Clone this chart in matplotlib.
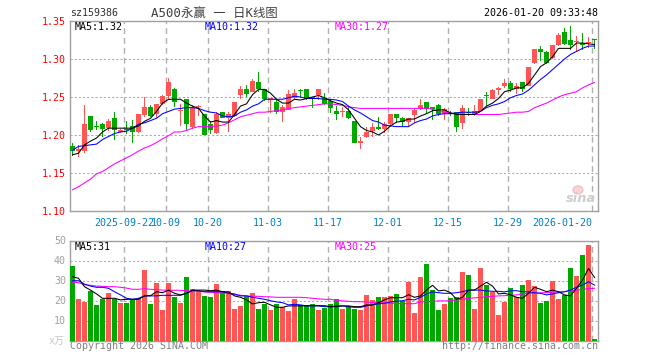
import numpy as np
import matplotlib
matplotlib.use("Agg")
import matplotlib.pyplot as plt
from matplotlib.patches import Ellipse

opens = [1.185,1.179,1.179,1.225,1.211,1.214,1.209,1.222,1.204,1.207,1.212,1.204,1.226,1.237,1.227,1.241,1.251,1.261,1.231,1.248,1.210,1.237,1.227,1.214,1.202,1.230,1.223,1.225,1.253,1.260,1.257,1.270,1.261,1.247,1.244,1.230,1.233,1.249,1.259,1.260,1.249,1.252,1.249,1.245,1.232,1.230,1.232,1.218,1.190,1.197,1.205,1.211,1.208,1.214,1.228,1.222,1.217,1.226,1.234,1.244,1.237,1.239,1.227,1.229,1.230,1.216,1.230,1.227,1.232,1.252,1.248,1.259,1.264,1.268,1.261,1.270,1.265,1.295,1.313,1.309,1.301,1.318,1.335,1.325,1.322,1.321,1.321,1.326]
closes = [1.179,1.181,1.214,1.206,1.210,1.208,1.218,1.206,1.207,1.206,1.204,1.227,1.237,1.225,1.241,1.251,1.270,1.243,1.233,1.215,1.235,1.238,1.200,1.207,1.227,1.223,1.228,1.243,1.261,1.254,1.271,1.261,1.247,1.248,1.230,1.237,1.254,1.255,1.258,1.248,1.248,1.261,1.241,1.236,1.227,1.231,1.222,1.190,1.191,1.204,1.211,1.208,1.214,1.228,1.222,1.217,1.222,1.233,1.240,1.234,1.234,1.227,1.234,1.228,1.211,1.235,1.229,1.232,1.247,1.251,1.259,1.262,1.268,1.261,1.265,1.261,1.289,1.313,1.309,1.295,1.318,1.331,1.320,1.318,1.323,1.318,1.322,1.325]
highs = [1.189,1.187,1.239,1.225,1.218,1.216,1.221,1.230,1.208,1.219,1.220,1.227,1.250,1.239,1.241,1.252,1.275,1.262,1.241,1.248,1.240,1.240,1.227,1.218,1.230,1.230,1.230,1.244,1.264,1.266,1.274,1.283,1.261,1.248,1.247,1.240,1.259,1.261,1.261,1.260,1.249,1.261,1.255,1.247,1.238,1.237,1.238,1.218,1.198,1.211,1.216,1.224,1.217,1.228,1.228,1.224,1.222,1.236,1.247,1.244,1.237,1.241,1.236,1.231,1.230,1.239,1.235,1.239,1.248,1.257,1.261,1.263,1.274,1.271,1.268,1.270,1.289,1.313,1.317,1.310,1.318,1.334,1.341,1.344,1.330,1.334,1.329,1.326]
lows = [1.173,1.171,1.176,1.204,1.206,1.198,1.205,1.193,1.203,1.201,1.190,1.203,1.224,1.224,1.222,1.240,1.248,1.237,1.212,1.207,1.208,1.225,1.200,1.201,1.201,1.222,1.204,1.224,1.247,1.250,1.256,1.257,1.245,1.229,1.227,1.217,1.233,1.247,1.249,1.246,1.235,1.246,1.239,1.229,1.220,1.224,1.221,1.189,1.182,1.196,1.197,1.207,1.203,1.213,1.216,1.211,1.210,1.216,1.233,1.227,1.220,1.225,1.220,1.225,1.204,1.208,1.225,1.225,1.231,1.238,1.247,1.252,1.262,1.256,1.254,1.257,1.264,1.293,1.297,1.294,1.300,1.317,1.318,1.312,1.311,1.312,1.315,1.313]

ma5 = [1.174,1.176,1.187,1.192,1.196,1.204,1.209,1.209,1.209,1.209,1.209,1.212,1.218,1.222,1.231,1.242,1.247,1.247,1.247,1.242,1.238,1.235,1.225,1.217,1.219,1.217,1.217,1.227,1.238,1.241,1.253,1.260,1.260,1.255,1.247,1.242,1.242,1.247,1.246,1.248,1.250,1.252,1.249,1.245,1.242,1.240,1.233,1.222,1.211,1.206,1.204,1.200,1.205,1.212,1.217,1.218,1.221,1.221,1.225,1.228,1.232,1.233,1.233,1.229,1.227,1.227,1.227,1.227,1.231,1.238,1.242,1.248,1.257,1.259,1.262,1.262,1.268,1.279,1.290,1.295,1.303,1.314,1.314,1.314,1.321,1.321,1.320,1.319]
ma10 = [1.180,1.185,1.186,1.187,1.188,1.194,1.198,1.202,1.204,1.205,1.209,1.214,1.216,1.219,1.222,1.228,1.231,1.234,1.235,1.236,1.236,1.235,1.232,1.230,1.229,1.225,1.224,1.225,1.230,1.233,1.238,1.241,1.247,1.247,1.247,1.247,1.249,1.251,1.250,1.248,1.248,1.248,1.247,1.247,1.246,1.244,1.238,1.233,1.229,1.224,1.219,1.217,1.213,1.212,1.211,1.211,1.211,1.216,1.219,1.221,1.225,1.227,1.228,1.228,1.229,1.230,1.230,1.230,1.231,1.236,1.239,1.241,1.244,1.249,1.252,1.254,1.259,1.266,1.273,1.279,1.286,1.293,1.300,1.306,1.310,1.314,1.317,1.317]
ma30 = [1.128,1.132,1.137,1.142,1.149,1.152,1.157,1.162,1.166,1.170,1.174,1.179,1.183,1.186,1.190,1.195,1.199,1.204,1.204,1.206,1.209,1.211,1.211,1.211,1.212,1.213,1.216,1.220,1.224,1.226,1.228,1.230,1.230,1.231,1.232,1.233,1.235,1.236,1.237,1.238,1.239,1.240,1.241,1.241,1.240,1.239,1.237,1.236,1.235,1.235,1.235,1.235,1.235,1.235,1.235,1.235,1.235,1.235,1.235,1.235,1.234,1.231,1.230,1.229,1.228,1.227,1.227,1.227,1.227,1.227,1.227,1.227,1.228,1.229,1.230,1.230,1.231,1.236,1.239,1.242,1.246,1.250,1.253,1.255,1.257,1.262,1.266,1.269]

volumes = [37.3,20.8,19.3,24.8,17.8,20.6,23.8,20.6,18.8,18.8,20.3,20.8,35.3,18.3,28.8,15.3,28.8,21.8,18.8,31.8,25.8,24.8,22.3,21.8,28.3,24.8,24.8,15.8,17.3,22.3,23.8,15.8,18.3,15.3,18.3,16.6,14.8,20.8,17.9,17.3,18.3,15.3,16.3,18.3,20.6,15.8,17.3,15.8,15.3,22.8,20.3,21.8,21.8,22.3,23.3,19.8,29.3,13.8,31.8,38.3,25.3,15.3,18.3,21.3,21.8,34.3,32.8,15.8,36.3,27.8,24.3,12.8,19.3,26.3,21.8,27.8,30.3,27.3,18.8,19.8,29.8,20.8,22.8,36.3,32.3,42.8,47.8,0.8]
vol_ma5 = [31.9,31.1,26.9,25.2,23.3,21.1,21.1,21.1,20.3,20.6,20.6,20.6,22.3,22.4,24.4,23.9,25.2,23.6,22.8,23.6,25.2,25.2,25.2,24.9,25.2,24.4,24.3,22.3,21.6,20.3,18.3,18.9,19.1,17.8,16.6,16.6,17.3,17.3,17.3,17.4,17.4,17.4,17.4,16.9,16.9,17.3,17.3,16.9,16.9,17.8,17.8,18.9,20.3,21.4,21.4,21.4,22.9,21.6,22.3,25.2,27.6,24.8,25.2,23.9,20.6,21.6,25.2,25.2,27.2,29.1,27.2,23.3,23.6,22.8,21.6,21.1,23.6,26.6,25.6,24.4,25.2,24.4,22.8,22.3,26.1,30.2,36.0,31.5]
vol_ma10 = [29.9,29.9,28.2,27.2,26.6,26.6,26.1,24.4,22.8,21.1,20.6,21.1,22.3,22.3,22.3,22.6,22.6,22.6,22.6,23.6,24.9,24.8,24.4,24.4,24.4,24.4,23.6,23.3,22.3,22.3,21.6,21.1,20.6,19.9,19.3,18.9,17.8,18.1,17.8,17.3,17.3,17.3,16.9,16.9,17.3,17.3,16.9,16.6,16.6,17.3,17.8,18.3,18.6,19.3,19.6,19.9,20.6,20.3,21.6,23.3,24.3,23.9,23.6,23.6,23.9,24.4,25.2,25.2,25.2,24.8,24.6,24.6,24.3,24.9,24.9,24.4,24.3,23.9,23.6,22.8,23.3,23.9,24.4,25.2,26.6,27.7,29.4,27.7]
vol_ma30 = [29.2,28.9,27.9,27.6,27.2,27.1,26.9,26.9,26.6,26.2,25.6,25.6,25.9,25.6,25.4,25.2,25.1,25.1,25.1,24.9,24.9,24.8,24.3,24.1,23.9,23.8,23.6,22.9,22.6,22.3,22.1,22.1,21.9,21.8,21.6,21.6,21.6,21.6,21.6,21.4,21.1,20.8,20.6,20.6,20.1,19.8,19.6,19.4,19.4,19.3,18.9,18.9,18.8,18.6,18.6,18.4,18.4,18.4,19.3,19.4,19.6,19.8,19.8,19.9,20.3,20.6,21.1,21.3,21.6,21.9,22.1,22.3,22.4,22.6,22.8,23.3,23.6,23.6,23.8,23.9,24.1,24.3,24.4,24.8,25.2,25.6,25.9,26.1]

date_idx = [9,16,23,33,43,53,63,73,87]
date_labels = ["2025-09-22","10-09","10-20","11-03","11-17","12-01","12-15","12-29","2026-01-20"]
price_ticks = [1.10,1.15,1.20,1.25,1.30,1.35]
vol_ticks = [10,20,30,40,50]

MONO = "DejaVu Sans Mono"
RED, GREEN = "#ff5555", "#00a800"
BORDER = "#a0a0a0"
plt.rcParams["lines.scale_dashes"] = False
plt.rcParams["font.family"] = [MONO, "Noto Sans CJK SC", "DejaVu Sans"]
PX = 0.72
W, H = 660, 360
FS = 10

fig = plt.figure(figsize=(6.6, 3.6), dpi=100)
def rect(l, t, r, b):
    return [l/W, 1-b/H, (r-l)/W, (b-t)/H]
ax = fig.add_axes(rect(70, 21, 598, 211))
av = fig.add_axes(rect(70, 240.5, 598, 340.5))

x = np.arange(len(opens))
is_up = np.array(closes) > np.array(opens)
cols = [RED if u else GREEN for u in is_up]
xlim = (-0.42, 87.58)

for a in (ax, av):
    a.set_xlim(*xlim)
    for s in a.spines.values():
        s.set_color(BORDER); s.set_linewidth(1.4*PX)
    a.set_xticks(np.array(date_idx) - 0.42)
    a.tick_params(length=0)
    a.grid(True, axis="y", color="#a8a8a8", lw=PX, linestyle=(0, (1.5, 1.5)))
    a.grid(True, axis="x", color="#b0b0b0", lw=1.4*PX, linestyle=(0, (4.2, 2.9)))
    a.set_axisbelow(True)

# candles
ax.set_ylim(1.10, 1.35)
ax.set_yticks(price_ticks)
ax.set_yticklabels([f"{v:.2f}" for v in price_ticks], color="#ff0000", fontsize=FS*PX)
ax.tick_params(axis="y", pad=3)
ax.bar(x, np.array(highs)-np.array(lows), bottom=lows, width=1/6, color=cols, linewidth=0, zorder=2)
body = np.maximum(np.abs(np.array(closes)-np.array(opens)), 0.0016)
ax.bar(x, body, bottom=np.minimum(opens, closes), width=5/6, color=cols, linewidth=0, zorder=3)
ax.plot(x, ma30, color="#ff00ff", lw=1.05*PX, zorder=4)
ax.plot(x, ma10, color="#0000ff", lw=1.05*PX, zorder=5)
ax.plot(x, ma5, color="#000000", lw=1.05*PX, zorder=6)
ax.set_xticklabels(date_labels, color="#0080c8", fontsize=FS*PX)
ax.tick_params(axis="x", pad=5)
ax.get_xticklabels()[-1].set_ha("right")

# volume
av.set_ylim(0, 50)
av.set_yticks(vol_ticks)
av.set_yticklabels([str(v) for v in vol_ticks], color="#a0a0a0", fontsize=FS*PX)
av.tick_params(axis="y", pad=3)
av.set_xticklabels([])
av.bar(x, volumes, width=5/6, color=cols, linewidth=0, zorder=3)
av.plot(x, vol_ma30, color="#ff00ff", lw=1.05*PX, zorder=4)
av.plot(x, vol_ma10, color="#0000ff", lw=1.05*PX, zorder=5)
av.plot(x, vol_ma5, color="#000000", lw=1.05*PX, zorder=6)

def t(px, py, s, color="black", size=FS, ha="left", **kw):
    fam = kw.pop("family", [MONO, "Noto Sans CJK SC"])
    fig.text(px/W, 1-py/H, s, color=color, fontsize=size*PX, ha=ha, va="center", family=fam, **kw)

t(70, 13, "sz159386", "#303030")
t(151, 13, "A500永赢 一 日K线图", "#404040", 12.4)
t(598, 13, "2026-01-20 09:33:48", "#000000", ha="right")
t(74.5, 27, "MA5:1.32", "black")
t(204.5, 27, "MA10:1.32", "#0000ff")
t(334.5, 27, "MA30:1.27", "#ff00ff")
t(74.5, 247, "MA5:31", "black")
t(204.5, 247, "MA10:27", "#0000ff")
t(334.5, 247, "MA30:25", "#ff00ff")
t(48.5, 341, "x万", "#c8c8c8")
t(70, 346, "Copyright 2026 SINA.COM", "#808080")
t(598, 346, "http://finance.sina.com.cn", "#808080", ha="right")

# faint watermark
fig.add_artist(Ellipse((578/W, 1-190/H), 10/W, 8/H, transform=fig.transFigure,
                       facecolor="#f8d4d4", edgecolor="#f4b8b8", lw=0.8, zorder=1.5))
t(581, 198, "sina", "#cccccc", 13, ha="center", family="DejaVu Sans", style="italic", weight="bold")

fig.savefig("out.png", dpi=100)
